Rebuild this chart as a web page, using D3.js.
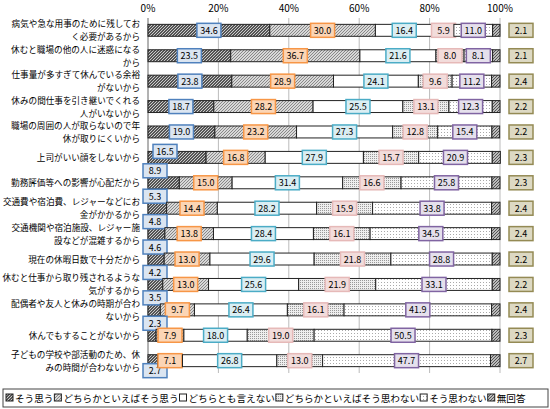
<!DOCTYPE html>
<html><head><meta charset="utf-8">
<script src="https://cdn.jsdelivr.net/npm/d3@7"></script>
<style>body{margin:0;background:#fff}text{font-family:"Noto Sans CJK JP",sans-serif}</style>
</head><body><svg id="c" width="550" height="409"></svg>
<script>
var categories = ["病気や急な用事のために残してお|く必要があるから","休むと職場の他の人に迷惑になる|から","仕事量が多すぎて休んでいる余裕|がないから","休みの間仕事を引き継いでくれる|人がいないから","職場の周囲の人が取らないので年|休が取りにくいから","上司がいい顔をしないから","勤務評価等への影響が心配だから","交通費や宿泊費、レジャーなどにお|金がかかるから","交通機関や宿泊施設、レジャー施|設などが混雑するから","現在の休暇日数で十分だから","休むと仕事から取り残されるような|気がするから","配偶者や友人と休みの時期が合わ|ないから","休んでもすることがないから","子どもの学校や部活動のため、休|みの時間が合わないから"];
var seriesNames = ["そう思う","どちらかといえばそう思う","どちらとも言えない","どちらかといえばそう思わない","そう思わない","無回答"];
var s1 = [34.6,23.5,23.8,18.7,19.0,16.5,8.9,5.3,4.8,4.6,4.2,3.5,2.3,2.7];
var s2 = [30.0,36.7,28.9,28.2,23.2,16.8,15.0,14.4,13.8,13.0,13.0,9.7,7.9,7.1];
var s3 = [16.4,21.6,24.1,25.5,27.3,27.9,31.4,28.2,28.4,29.6,25.6,26.4,18.0,26.8];
var s4 = [5.9,8.0,9.6,13.1,12.8,15.7,16.6,15.9,16.1,21.8,21.9,16.1,19.0,13.0];
var s5 = [11.0,8.1,11.2,12.3,15.4,20.9,25.8,33.8,34.5,28.8,33.1,41.9,50.5,47.7];
var s6 = [2.1,2.1,2.4,2.2,2.2,2.3,2.3,2.4,2.4,2.2,2.2,2.4,2.3,2.7];
var ticks = [0,20,40,60,80,100];
var series = [s1,s2,s3,s4,s5,s6];
var boxFill = ["#dbe5f1","#fbd5b5","#daeef3","#f2dcdb","#e5e0ec","#ddd9c3"];
var boxStroke = ["#4f81bd","#f79646","#4bacc6","#e6b9b8","#8064a2","#948a54"];

var svg = d3.select("#c");
var defs = svg.append("defs");
function pat(id, bg, fg, size, kind){
  var p = defs.append("pattern").attr("id",id).attr("patternUnits","userSpaceOnUse").attr("width",size).attr("height",size);
  p.append("rect").attr("width",size).attr("height",size).attr("fill",bg);
  if(kind=="hatch"){
    p.append("path").attr("d","M0,"+size+"L"+size+",0").attr("stroke",fg).attr("stroke-width",1);
  } else if(kind=="dots"){
    p.append("rect").attr("x",0).attr("y",0).attr("width",1).attr("height",1).attr("fill",fg);
  }
}
pat("p0","#555","#ccc",3,"hatch");
pat("p1","#d8d8d8","#888",3,"hatch");
pat("p3","#eee","#999",2,"dots");
pat("p4","#fff","#aaa",3,"dots");
pat("p5","#bbb","#555",3,"hatch");
var fills = ["url(#p0)","url(#p1)","#fff","url(#p3)","url(#p4)","url(#p5)"];

var x = d3.scaleLinear().domain([0,100]).range([148,500]);
var y = d3.scaleBand().domain(d3.range(categories.length)).range([18,373]).paddingInner(0.53).paddingOuter(0.25);

svg.append("g").selectAll("line").data(ticks).join("line")
  .attr("x1",d=>x(d)).attr("x2",d=>x(d)).attr("y1",18).attr("y2",373).attr("stroke","#bbb");
svg.append("line").attr("x1",x(0)).attr("x2",x(0)).attr("y1",18).attr("y2",373).attr("stroke","#888");
svg.append("g").selectAll("text").data(ticks).join("text")
  .attr("x",d=>x(d)).attr("y",12).attr("text-anchor","middle").attr("font-size",10).text(d=>d+"%");

categories.forEach(function(c,i){
  var lines = c.split("|");
  var cy = y(i)+y.bandwidth()/2;
  lines.forEach(function(l,j){
    svg.append("text").attr("x",140).attr("y",cy+3.5+(j-(lines.length-1)/2)*13).attr("text-anchor","end").attr("font-size",8.6).text(l);
  });
  var cum = 0;
  series.forEach(function(s,k){
    var v = s[i];
    svg.append("rect").attr("x",x(cum)).attr("y",y(i)).attr("width",x(cum+v)-x(cum)).attr("height",y.bandwidth())
      .attr("fill",fills[k]).attr("stroke","#222").attr("stroke-width",1);
    var lx = x(cum+v/2), ly = cy;
    if(k==0 && v<10){ lx = x(0)+7; ly = cy-12; if(i==13) ly = cy+10; }
    if(k==0 && v>=10 && v<17){ ly = cy-6; lx = x(0)+17; }
    if(k==5){ lx = 521; }
    var g = svg.append("g");
    g.append("rect").attr("x",lx-12).attr("y",ly-7).attr("width",24).attr("height",14)
      .attr("fill",boxFill[k]).attr("stroke",boxStroke[k]).attr("stroke-width",1.5);
    g.append("text").attr("x",lx).attr("y",ly+3.5).attr("text-anchor","middle").attr("font-size",9).text(v.toFixed(1));
    cum += v;
  });
});

// legend
var lg = svg.append("g");
lg.append("rect").attr("x",3).attr("y",389).attr("width",545).attr("height",18).attr("fill","#fff").attr("stroke","#444");
var lx = 6;
seriesNames.forEach(function(n,k){
  lg.append("rect").attr("x",lx).attr("y",394).attr("width",7).attr("height",7).attr("fill",fills[k]).attr("stroke","#222");
  var t = lg.append("text").attr("x",lx+9).attr("y",402).attr("font-size",9.6).text(n);
  lx += 9 + t.node().getComputedTextLength() + 1;
});
</script></body></html>
